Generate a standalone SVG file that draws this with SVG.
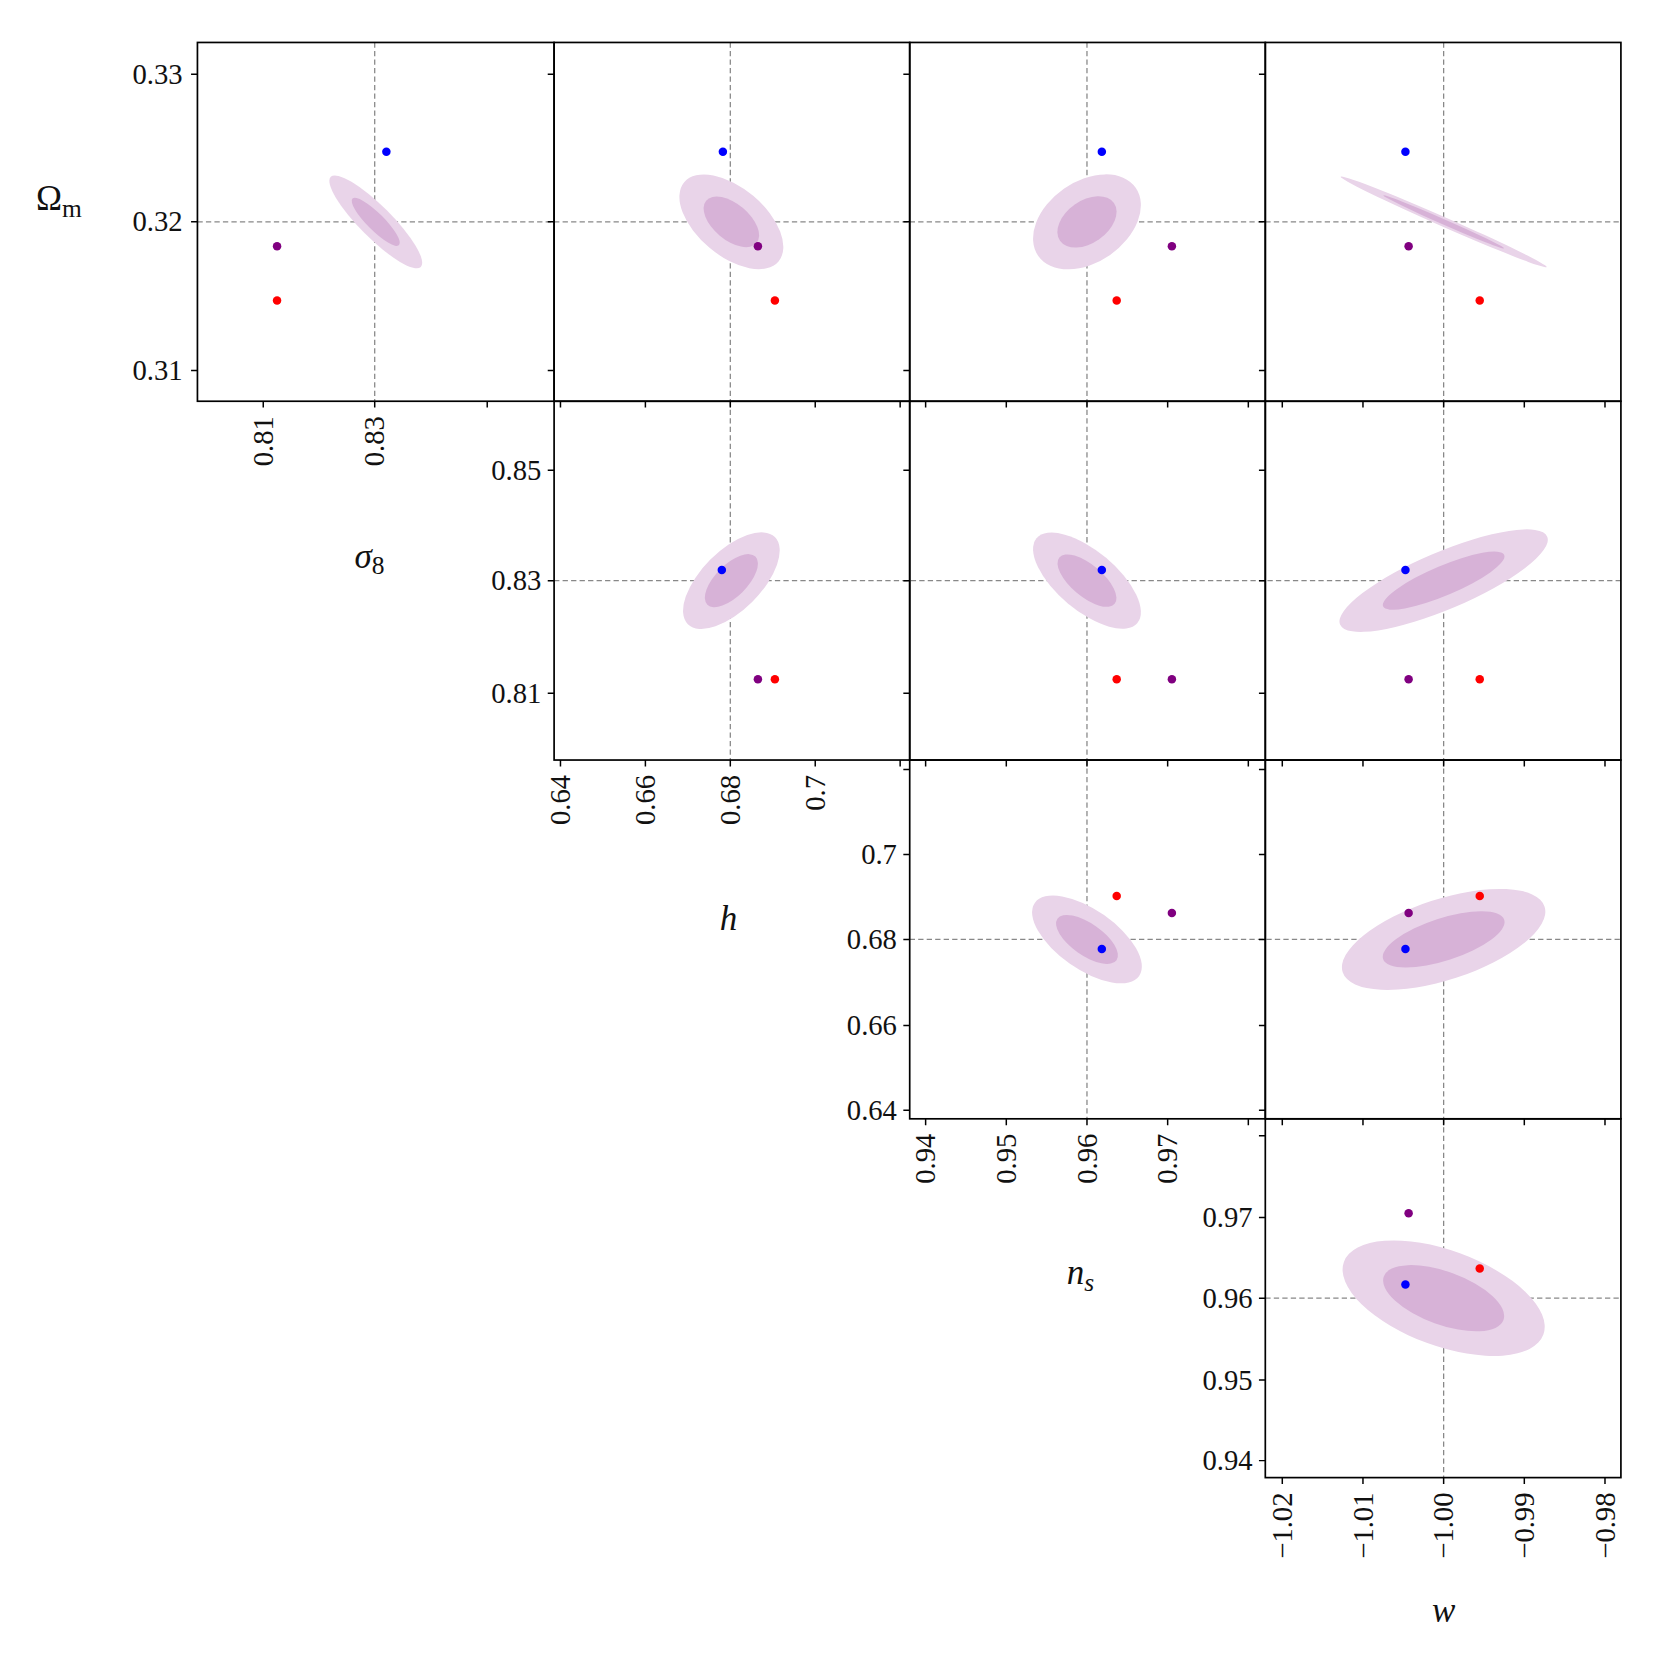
<svg xmlns="http://www.w3.org/2000/svg" width="1660" height="1660" viewBox="0 0 1660 1660">
<style>
.f{fill:none;stroke:#000;stroke-width:1.6}
.t{stroke:#000;stroke-width:1.4}
.d{stroke:#888;stroke-width:1.2;stroke-dasharray:5,3}
.o{fill:rgb(233,212,233)}
.i{fill:rgb(215,178,215)}
.tl{font-family:"Liberation Serif",serif;font-size:27px;fill:#111}
.ax{font-family:"Liberation Serif",serif;font-size:33px;font-style:italic;fill:#111}
.b{fill:#0000ff}.p{fill:#800080}.r{fill:#ff0000}
</style>
<rect width="1660" height="1660" fill="#fff"/>
<g transform="scale(1.0615)">
<g id="row0">
<line class="d" x1="353" y1="40" x2="353" y2="378"/><line class="d" x1="186" y1="209" x2="522" y2="209"/>
<ellipse class="o" cx="354" cy="209" rx="60" ry="15" transform="rotate(45 354 209)"/>
<ellipse class="i" cx="354" cy="209" rx="31" ry="8" transform="rotate(45 354 209)"/>
<circle class="b" cx="364" cy="143" r="4"/><circle class="p" cx="261" cy="232" r="4"/><circle class="r" cx="261" cy="283" r="4"/>
<line class="d" x1="688" y1="40" x2="688" y2="378"/><line class="d" x1="522" y1="209" x2="857" y2="209"/>
<ellipse class="o" cx="689" cy="209" rx="58" ry="32" transform="rotate(40 689 209)"/>
<ellipse class="i" cx="689" cy="209" rx="31" ry="17" transform="rotate(40 689 209)"/>
<circle class="b" cx="681" cy="143" r="4"/><circle class="p" cx="714" cy="232" r="4"/><circle class="r" cx="730" cy="283" r="4"/>
<line class="d" x1="1024" y1="40" x2="1024" y2="378"/><line class="d" x1="857" y1="209" x2="1192" y2="209"/>
<ellipse class="o" cx="1024" cy="209" rx="56" ry="38" transform="rotate(-35 1024 209)"/>
<ellipse class="i" cx="1024" cy="209" rx="31" ry="20" transform="rotate(-35 1024 209)"/>
<circle class="b" cx="1038" cy="143" r="4"/><circle class="p" cx="1104" cy="232" r="4"/><circle class="r" cx="1052" cy="283" r="4"/>
<line class="d" x1="1360" y1="40" x2="1360" y2="378"/><line class="d" x1="1192" y1="209" x2="1527" y2="209"/>
<ellipse class="o" cx="1360" cy="209" rx="106" ry="4.5" transform="rotate(23.7 1360 209)"/>
<ellipse class="i" cx="1360" cy="209" rx="62" ry="2.5" transform="rotate(23.7 1360 209)"/>
<circle class="b" cx="1324" cy="143" r="4"/><circle class="p" cx="1327" cy="232" r="4"/><circle class="r" cx="1394" cy="283" r="4"/>
<rect class="f" x="186" y="40" width="336" height="338"/><rect class="f" x="522" y="40" width="335" height="338"/>
<rect class="f" x="857" y="40" width="335" height="338"/><rect class="f" x="1192" y="40" width="335" height="338"/>
</g>
<g id="row1">
<line class="d" x1="688" y1="378" x2="688" y2="716"/><line class="d" x1="522" y1="547" x2="1527" y2="547"/>
<line class="d" x1="1024" y1="378" x2="1024" y2="716"/><line class="d" x1="1360" y1="378" x2="1360" y2="716"/>
<ellipse class="o" cx="689" cy="547" rx="58" ry="28" transform="rotate(-45 689 547)"/>
<ellipse class="i" cx="689" cy="547" rx="32" ry="15" transform="rotate(-45 689 547)"/>
<circle class="b" cx="680" cy="537" r="4"/><circle class="p" cx="714" cy="640" r="4"/><circle class="r" cx="730" cy="640" r="4"/>
<ellipse class="o" cx="1024" cy="547" rx="62" ry="28" transform="rotate(40 1024 547)"/>
<ellipse class="i" cx="1024" cy="547" rx="34" ry="15" transform="rotate(40 1024 547)"/>
<circle class="b" cx="1038" cy="537" r="4"/><circle class="r" cx="1052" cy="640" r="4"/><circle class="p" cx="1104" cy="640" r="4"/>
<ellipse class="o" cx="1360" cy="547" rx="106" ry="27" transform="rotate(-23 1360 547)"/>
<ellipse class="i" cx="1360" cy="547" rx="62" ry="14" transform="rotate(-23 1360 547)"/>
<circle class="b" cx="1324" cy="537" r="4"/><circle class="p" cx="1327" cy="640" r="4"/><circle class="r" cx="1394" cy="640" r="4"/>
<rect class="f" x="522" y="378" width="335" height="338"/><rect class="f" x="857" y="378" width="335" height="338"/><rect class="f" x="1192" y="378" width="335" height="338"/>
</g>
<g id="row2">
<line class="d" x1="1024" y1="716" x2="1024" y2="1054"/><line class="d" x1="1360" y1="716" x2="1360" y2="1054"/><line class="d" x1="857" y1="885" x2="1527" y2="885"/>
<ellipse class="o" cx="1024" cy="885" rx="60" ry="28" transform="rotate(35 1024 885)"/>
<ellipse class="i" cx="1024" cy="885" rx="34" ry="15" transform="rotate(35 1024 885)"/>
<circle class="r" cx="1052" cy="844" r="4"/><circle class="p" cx="1104" cy="860" r="4"/><circle class="b" cx="1038" cy="894" r="4"/>
<ellipse class="o" cx="1360" cy="885" rx="100" ry="38" transform="rotate(-18 1360 885)"/>
<ellipse class="i" cx="1360" cy="885" rx="60" ry="20" transform="rotate(-18 1360 885)"/>
<circle class="r" cx="1394" cy="844" r="4"/><circle class="p" cx="1327" cy="860" r="4"/><circle class="b" cx="1324" cy="894" r="4"/>
<rect class="f" x="857" y="716" width="335" height="338"/><rect class="f" x="1192" y="716" width="335" height="338"/>
</g>
<g id="row3">
<line class="d" x1="1360" y1="1054" x2="1360" y2="1392"/><line class="d" x1="1192" y1="1223" x2="1527" y2="1223"/>
<ellipse class="o" cx="1360" cy="1223" rx="100" ry="45" transform="rotate(20 1360 1223)"/>
<ellipse class="i" cx="1360" cy="1223" rx="60" ry="25" transform="rotate(20 1360 1223)"/>
<circle class="p" cx="1327" cy="1143" r="4"/><circle class="r" cx="1394" cy="1195" r="4"/><circle class="b" cx="1324" cy="1210" r="4"/>
<rect class="f" x="1192" y="1054" width="335" height="338"/>
</g>
<g id="ticks" class="t">
<path d="M180 70h6M180 209h6M180 349h6M516 70h6M516 209h6M516 349h6M851 70h6M851 209h6M851 349h6M1186 70h6M1186 209h6M1186 349h6"/>
<path d="M248 378v6M353 378v6M459 378v6M528 378v6M608 378v6M688 378v6M768 378v6M848 378v6M872 378v6M948 378v6M1024 378v6M1100 378v6M1176 378v6M1208 378v6M1284 378v6M1360 378v6M1436 378v6M1512 378v6"/>
<path d="M516 443h6M516 547h6M516 653h6M851 443h6M851 547h6M851 653h6M1186 443h6M1186 547h6M1186 653h6"/>
<path d="M528 716v6M608 716v6M688 716v6M768 716v6M848 716v6M872 716v6M948 716v6M1024 716v6M1100 716v6M1176 716v6M1208 716v6M1284 716v6M1360 716v6M1436 716v6M1512 716v6"/>
<path d="M851 725h6M851 805h6M851 885h6M851 966h6M851 1046h6M1186 725h6M1186 805h6M1186 885h6M1186 966h6M1186 1046h6"/>
<path d="M872 1054v6M948 1054v6M1024 1054v6M1100 1054v6M1176 1054v6M1208 1054v6M1284 1054v6M1360 1054v6M1436 1054v6M1512 1054v6"/>
<path d="M1186 1070h6M1186 1147h6M1186 1223h6M1186 1300h6M1186 1376h6M1208 1392v6M1284 1392v6M1360 1392v6M1436 1392v6M1512 1392v6"/>
</g>
<g id="ticklabels" class="tl">
<g text-anchor="end">
<text x="172" y="79">0.33</text><text x="172" y="218">0.32</text><text x="172" y="358">0.31</text>
<text x="510" y="452">0.85</text><text x="510" y="556">0.83</text><text x="510" y="662">0.81</text>
<text x="845" y="814">0.7</text><text x="845" y="894">0.68</text><text x="845" y="975">0.66</text><text x="845" y="1055">0.64</text>
<text x="1180" y="1156">0.97</text><text x="1180" y="1232">0.96</text><text x="1180" y="1309">0.95</text><text x="1180" y="1385">0.94</text>
<text transform="translate(257 392) rotate(-90)">0.81</text><text transform="translate(362 392) rotate(-90)">0.83</text>
<text transform="translate(537 730) rotate(-90)">0.64</text><text transform="translate(617 730) rotate(-90)">0.66</text><text transform="translate(697 730) rotate(-90)">0.68</text><text transform="translate(777 730) rotate(-90)">0.7</text>
<text transform="translate(881 1068) rotate(-90)">0.94</text><text transform="translate(957 1068) rotate(-90)">0.95</text><text transform="translate(1033 1068) rotate(-90)">0.96</text><text transform="translate(1109 1068) rotate(-90)">0.97</text>
<text transform="translate(1217 1406) rotate(-90)">−1.02</text><text transform="translate(1293 1406) rotate(-90)">−1.01</text><text transform="translate(1369 1406) rotate(-90)">−1.00</text><text transform="translate(1445 1406) rotate(-90)">−0.99</text><text transform="translate(1521 1406) rotate(-90)">−0.98</text>
</g>
</g>
<g id="axislabels">
<text x="34" y="198" font-family="Liberation Serif,serif" font-size="33" fill="#111">Ω<tspan font-size="24" dy="6">m</tspan></text>
<text class="ax" x="334" y="535">σ<tspan font-style="normal" font-size="24" dy="6">8</tspan></text>
<text class="ax" x="678" y="876">h</text>
<text class="ax" x="1005" y="1210">n<tspan font-size="24" dy="6">s</tspan></text>
<text class="ax" x="1349" y="1528">w</text>
</g>
</g>
</svg>
